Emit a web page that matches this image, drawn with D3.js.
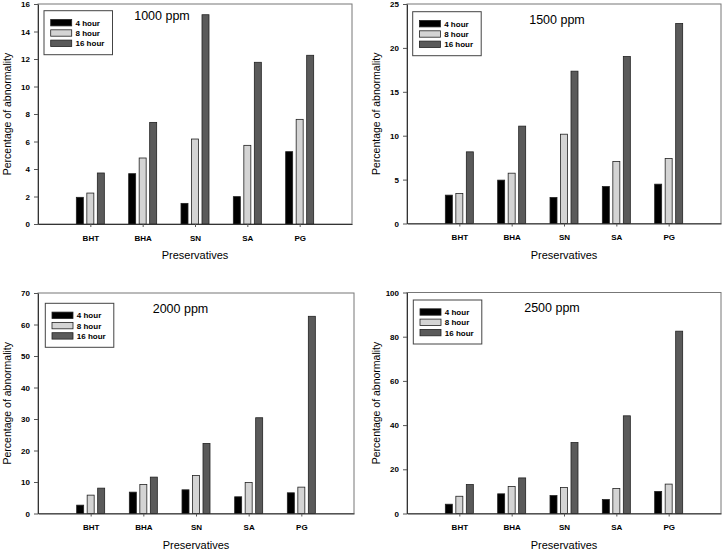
<!DOCTYPE html>
<html>
<head>
<meta charset="utf-8">
<script src="https://cdn.jsdelivr.net/npm/d3@7"></script>
<style>
  html, body { margin: 0; padding: 0; background: #fff; }
  svg { display: block; }
  text { font-family: Arial, "Liberation Sans", sans-serif; fill: #000; }
</style>
</head>
<body>
<svg id="chart" width="722" height="553"></svg>
<script>
// ---------- data ----------
const categories = ["BHT", "BHA", "SN", "SA", "PG"];
const seriesNames = ["4 hour", "8 hour", "16 hour"];
const titles = ["1000 ppm", "1500 ppm", "2000 ppm", "2500 ppm"];
const yMaxes = [16, 25, 70, 100];
const yTickSteps = [2, 5, 10, 20];
const xAxisTitle = "Preservatives";
const yAxisTitle = "Percentage of abnormality";

const v1000_4h  = [1.94, 3.66, 1.50, 1.99, 5.26];
const v1000_8h  = [2.25, 4.80, 6.18, 5.72, 7.61];
const v1000_16h = [3.71, 7.39, 15.22, 11.76, 12.27];

const v1500_4h  = [3.23, 4.94, 2.96, 4.21, 4.48];
const v1500_8h  = [3.42, 5.73, 10.17, 7.06, 7.40];
const v1500_16h = [8.16, 11.09, 17.35, 19.02, 22.78];

const v2000_4h  = [2.65, 6.78, 7.52, 5.30, 6.57];
const v2000_8h  = [5.83, 9.22, 12.08, 9.85, 8.37];
const v2000_16h = [8.05, 11.55, 22.25, 30.4, 62.6];

const v2500_4h  = [4.2, 8.9, 8.1, 6.3, 10.0];
const v2500_8h  = [7.8, 12.2, 11.8, 11.3, 13.3];
const v2500_16h = [13.1, 16.1, 32.1, 44.2, 82.5];

const panelValues = [
  [v1000_4h, v1000_8h, v1000_16h],
  [v1500_4h, v1500_8h, v1500_16h],
  [v2000_4h, v2000_8h, v2000_16h],
  [v2500_4h, v2500_8h, v2500_16h]
];

// ---------- layout & style ----------
const layouts = [
  { left: 38,  right: 352, top: 4,     bottom: 224,   titleX: 162,   titleY: 19.5,  legX: 44,    legY: 10.7 },
  { left: 407, right: 721, top: 4,     bottom: 223.5, titleX: 557,   titleY: 23.5,  legX: 412.7, legY: 11.7 },
  { left: 38,  right: 354, top: 293,   bottom: 513.5, titleX: 180.5, titleY: 312.5, legX: 45.3,  legY: 303.3 },
  { left: 407, right: 721, top: 292.5, bottom: 513.5, titleX: 552,   titleY: 311.5, legX: 413.3, legY: 300 }
];
const fills = ["#000000", "#d4d4d4", "#5a5a5a"];

const svg = d3.select("#chart");
svg.append("rect").attr("width", 722).attr("height", 553).attr("fill", "#fff");

layouts.forEach((L, p) => {
  const g = svg.append("g");
  const x = d3.scalePoint().domain(categories).range([L.left, L.right]).padding(1);
  const xs = d3.scaleBand().domain(seriesNames).range([-14, 14]).paddingInner(1/3).paddingOuter(0);
  const y = d3.scaleLinear().domain([0, yMaxes[p]]).range([L.bottom, L.top]);

  // frame
  g.append("rect")
    .attr("x", L.left).attr("y", L.top)
    .attr("width", L.right - L.left).attr("height", L.bottom - L.top)
    .attr("fill", "none").attr("stroke", "#777").attr("stroke-width", 1);

  // bars
  seriesNames.forEach((s, si) => {
    g.selectAll(null)
      .data(categories.map((c, ci) => ({ c, v: panelValues[p][si][ci] })))
      .enter().append("rect")
      .attr("x", d => x(d.c) + xs(s))
      .attr("y", d => y(d.v))
      .attr("width", xs.bandwidth())
      .attr("height", d => L.bottom - y(d.v))
      .attr("fill", fills[si])
      .attr("stroke", "#222")
      .attr("stroke-width", 0.8);
  });

  // y axis
  const yAxis = d3.axisLeft(y)
    .tickValues(d3.range(0, yMaxes[p] + 0.001, yTickSteps[p]))
    .tickSize(4).tickPadding(4).tickSizeOuter(0);
  const ya = g.append("g").attr("transform", `translate(${L.left},0)`).call(yAxis);
  ya.select(".domain").attr("stroke", "#333");
  ya.selectAll(".tick line").attr("stroke", "#555");
  ya.selectAll(".tick text").attr("font-size", 8).attr("font-weight", "bold")
    .style("font-family", "Arial, 'Liberation Sans', sans-serif").attr("fill", "#111");

  // x axis
  const xAxis = d3.axisBottom(x).tickSize(3).tickPadding(8).tickSizeOuter(0);
  const xa = g.append("g").attr("transform", `translate(0,${L.bottom})`).call(xAxis);
  xa.select(".domain").attr("stroke", "#333");
  xa.selectAll(".tick line").attr("stroke", "#555");
  xa.selectAll(".tick text").attr("font-size", 8).attr("font-weight", "bold")
    .style("font-family", "Arial, 'Liberation Sans', sans-serif").attr("fill", "#111");

  // axis titles
  g.append("text")
    .attr("x", (L.left + L.right) / 2).attr("y", L.bottom + 35)
    .attr("text-anchor", "middle").attr("font-size", 11)
    .text(xAxisTitle);
  g.append("text")
    .attr("transform", `translate(${L.left - 27},${(L.top + L.bottom) / 2}) rotate(-90)`)
    .attr("text-anchor", "middle").attr("font-size", 10.5)
    .text(yAxisTitle);

  // panel title
  g.append("text")
    .attr("x", L.titleX).attr("y", L.titleY)
    .attr("text-anchor", "middle").attr("font-size", 12.5)
    .text(titles[p]);

  // legend
  const lg = g.append("g").attr("transform", `translate(${L.legX},${L.legY})`);
  lg.append("rect").attr("width", 68.5).attr("height", 44)
    .attr("fill", "#fff").attr("stroke", "#444").attr("stroke-width", 1);
  const rowY = d3.scalePoint().domain(seriesNames).range([12, 32.6]);
  seriesNames.forEach((s, si) => {
    lg.append("rect").attr("x", 6.7).attr("y", rowY(s) - 3.2)
      .attr("width", 21).attr("height", 6.4)
      .attr("fill", fills[si]).attr("stroke", "#222").attr("stroke-width", 0.8);
    lg.append("text").attr("x", 31.5).attr("y", rowY(s) + 3)
      .attr("font-size", 8).attr("font-weight", "bold").text(s);
  });
});
</script>
</body>
</html>
